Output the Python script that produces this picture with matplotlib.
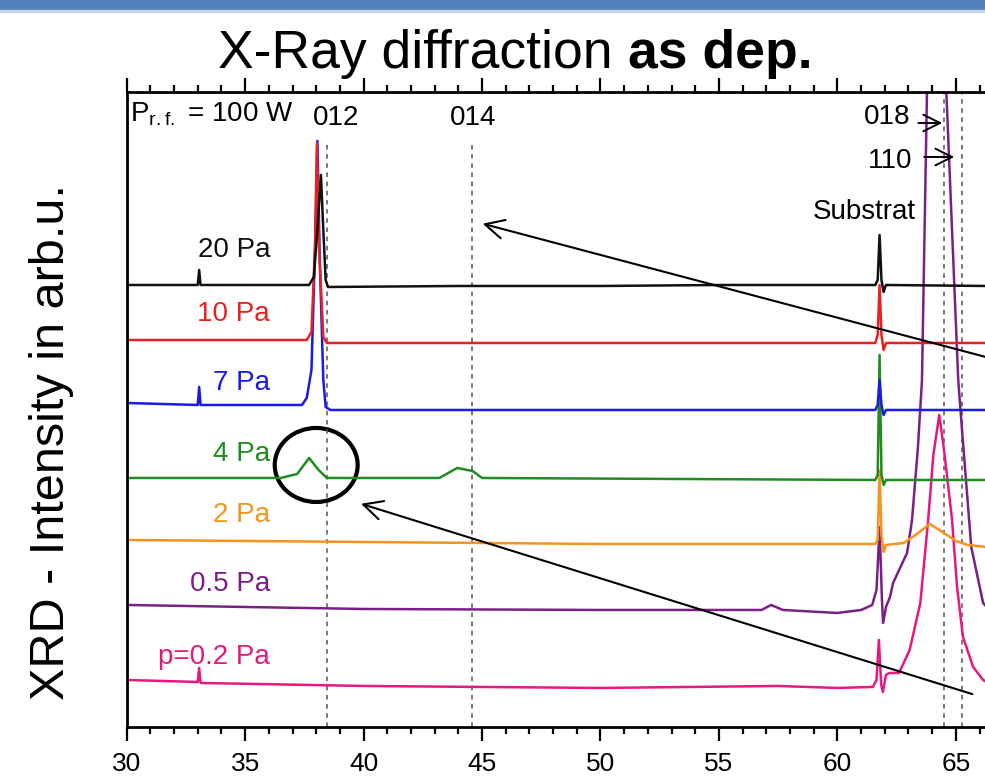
from matplotlib import pyplot as plt
from matplotlib.patches import Ellipse, Rectangle

# 2theta (deg) and intensity (arb.u., offset per pressure)
x_20pa = [30, 33.0, 33.06, 33.12, 37.7, 37.9, 38.05, 38.2, 38.3, 38.4, 38.5, 44, 50, 55,
          61.6, 61.7, 61.78, 61.86, 61.95, 62.05, 66.3]
y_20pa = [442, 442, 457, 442, 442, 450, 497, 552, 497, 447, 440, 441, 441, 442,
          442, 447, 492, 447, 435, 442, 441]

x_10pa = [30, 37.6, 37.8, 37.95, 38.03, 38.12, 38.3, 38.45, 50,
          61.6, 61.7, 61.78, 61.86, 61.95, 62.05, 66.3]
y_10pa = [387, 387, 395, 480, 584, 480, 390, 384, 384,
          384, 392, 442, 392, 377, 384, 384]

x_7pa = [30, 33.0, 33.06, 33.12, 37.4, 37.6, 37.8, 37.95, 38.05, 38.15, 38.3, 38.4, 38.6, 50,
         61.6, 61.7, 61.78, 61.86, 61.95, 62.05, 66.3]
y_7pa = [324, 322, 340, 322, 322, 329, 357, 477, 586, 467, 347, 320, 317, 317,
         317, 322, 347, 322, 312, 317, 317]

x_4pa = [30, 36.5, 37.2, 37.7, 38.1, 38.45, 43.2, 43.95, 44.6, 45.0,
         61.6, 61.7, 61.78, 61.86, 61.95, 62.05, 66.3]
y_4pa = [249, 249, 253, 269, 257, 249, 249, 259, 256, 249,
         247, 252, 372, 252, 242, 247, 247]

x_2pa = [30, 40, 50, 61.6, 61.7, 61.78, 61.86, 61.95, 62.05,
         62.8, 63.3, 63.9, 64.5, 65.0, 65.5, 66.3]
y_2pa = [187, 185, 183, 183, 187, 257, 192, 175, 182,
         184, 192, 203, 194, 186, 182, 180]

x_05pa = [30, 40, 50, 56.8, 57.2, 57.7, 60, 61.0, 61.47, 61.65, 61.78, 61.88, 61.93, 62.05,
          62.22, 62.35, 62.94, 63.15, 63.40, 63.57, 63.78, 64.25, 64.6, 65.1, 65.26,
          65.65, 66.15, 66.3]
y_05pa = [122, 118, 117, 117, 122, 117, 114, 117, 122, 137, 200, 127, 104, 120,
          130, 144, 174, 207, 280, 347, 634, 1000, 634, 347, 297,
          180, 124, 120]

x_02pa = [30, 33.0, 33.06, 33.12, 40, 50, 57.5, 60, 61.5, 61.65, 61.75, 61.85, 61.92,
          62.05, 62.2, 62.6, 63.05, 63.5, 63.7, 63.83, 64.05, 64.3, 64.5, 64.84,
          65.05, 65.3, 65.73, 66.15, 66.3]
y_02pa = [47, 45, 59, 44, 41, 39, 41, 39, 40, 47, 87, 42, 35,
          52, 54, 54, 77, 124, 174, 207, 272, 312, 277, 207,
          140, 90, 60, 47, 45]

pressures = ['p=0.2 Pa', '0.5 Pa', '2 Pa', '4 Pa', '7 Pa', '10 Pa', '20 Pa']
xs = [x_02pa, x_05pa, x_2pa, x_4pa, x_7pa, x_10pa, x_20pa]
ys = [y_02pa, y_05pa, y_2pa, y_4pa, y_7pa, y_10pa, y_20pa]
colors = ['#e6197f', '#7a1f86', '#f7941d', '#1f8c1f', '#1a1ae6', '#e82020', '#111111']
label_y = [70, 143, 212, 273, 344, 413, 477]

# reflex positions (dashed lines)
reflex_pos = [38.45, 44.57, 64.51, 65.27]
reflex_top = [584, 585, 635, 635]

params = {'mathtext.default': 'regular', 'font.family': ['Liberation Sans', 'DejaVu Sans']}
plt.rcParams.update(params)

fig = plt.figure(figsize=(9.85, 7.77), dpi=100)
ax = fig.add_axes([0.1286, 0.0644, 0.8714, 0.8172])

# slide header bar
fig.patches.append(Rectangle((0, 1 - 9/777), 1, 9/777, transform=fig.transFigure,
                             color='#4f81bd', zorder=0))
fig.patches.append(Rectangle((0, 1 - 12/777), 1, 2/777, transform=fig.transFigure,
                             color='#c5d5ea', zorder=0))

for xr, top in zip(reflex_pos, reflex_top):
    ax.plot([xr, xr], [0, top], '--', color='#555555', lw=1.1, dashes=(3, 3))

for x, y, c, name, ly in zip(xs, ys, colors, pressures, label_y):
    ax.plot(x, y, '-', color=c, lw=1.8)
    ax.text(36.05, ly, name, color=c, fontsize=20, ha='right', va='center')

# annotations
ax.text(30.14, 605, 'P$_{r.f.}$ = 100 W', fontsize=20, ha='left', va='baseline')
ax.text(38.85, 609, '012', fontsize=20, ha='center', va='center')
ax.text(44.64, 609, '014', fontsize=20, ha='center', va='center')
ax.text(63.07, 610, '018', fontsize=20, ha='right', va='center')
ax.text(63.15, 566, '110', fontsize=20, ha='right', va='center')
ax.text(61.13, 515, 'Substrat', fontsize=20, ha='center', va='center')
ax.annotate('', xy=(64.54, 604), xytext=(63.3, 604),
            arrowprops=dict(arrowstyle='->', color='black', lw=1.4, mutation_scale=30))
ax.annotate('', xy=(65.05, 570), xytext=(63.55, 570),
            arrowprops=dict(arrowstyle='->', color='black', lw=1.4, mutation_scale=30))

ax.add_patch(Ellipse((38.0, 262), 3.5, 74, fill=False, lw=3, color='black'))
ax.annotate('', xy=(44.91, 504), xytext=(66.9, 366), annotation_clip=False,
            arrowprops=dict(arrowstyle='->', color='black', lw=1.5, mutation_scale=34))
ax.annotate('', xy=(39.78, 224), xytext=(65.81, 32),
            arrowprops=dict(arrowstyle='->', color='black', lw=1.5, mutation_scale=34))

# axes
ax.set_xlim(30, 66.23)
ax.set_ylim(0, 635)
ax.set_xticks(range(30, 66, 5))
ax.set_xticks(range(30, 67), minor=True)
ax.set_yticks([])
ax.spines['right'].set_visible(False)
for s in ['left', 'bottom', 'top']:
    ax.spines[s].set_linewidth(2)
ax.tick_params(axis='x', which='both', top=True, direction='out', width=1.6, labelsize=19)
ax.tick_params(axis='x', which='major', length=10, pad=8)
ax.tick_params(axis='x', which='minor', length=5)

fig.text(218/985, 1 - 68/777, 'X-Ray diffraction', fontsize=38.5, ha='left', va='baseline')
fig.text(628/985, 1 - 68/777, 'as dep.', fontsize=38.5, fontweight='bold',
         ha='left', va='baseline')
fig.text(52/985, 1 - 442/777, 'XRD - Intensity in arb.u.', fontsize=35,
         rotation=90, ha='center', va='center')

plt.savefig('out.png', dpi=100)
